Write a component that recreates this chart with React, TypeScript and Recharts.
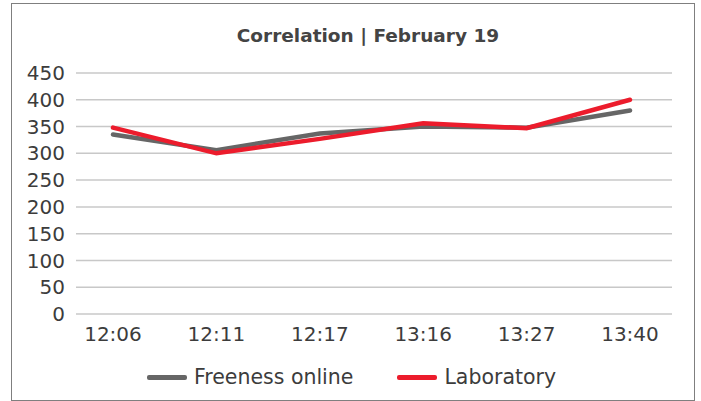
import { CartesianGrid, Legend, Line, LineChart, XAxis, YAxis } from 'recharts';

// values
const times = ['12:06', '12:11', '12:17', '13:16', '13:27', '13:40'];
const freenessOnline = [335, 306, 337, 350, 348, 380];
const laboratory = [348, 300, 327, 356, 347, 400];
const yTicks = [0, 50, 100, 150, 200, 250, 300, 350, 400, 450];

const data = times.map((t, i) => ({
    time: t,
    freeness: freenessOnline[i],
    lab: laboratory[i],
}));

const FONT = '"DejaVu Sans", sans-serif';
const TEXT = '#3c3c3c';
const GRAY = '#666666';
const RED = '#ec1c2c';

const LegendContent = ({ payload }: any) => (
    <div style={{ display: 'flex', justifyContent: 'center', alignItems: 'center', fontFamily: FONT, fontSize: 20.5, color: TEXT, paddingLeft: 2 }}>
        {(payload || []).map((p: any, i: number) => (
            <div key={p.value} style={{ display: 'flex', alignItems: 'center', marginLeft: i === 0 ? 0 : 44 }}>
                <span style={{ display: 'inline-block', width: 40, height: 5, borderRadius: 2, background: p.color, marginRight: 7 }} />
                <span>{p.value}</span>
            </div>
        ))}
    </div>
);

export default function App() {
    return (
        <div style={{ position: 'absolute', left: 0, top: 0, width: 701, height: 401, background: '#fff' }}>
            <div
                style={{
                    position: 'absolute',
                    left: 11,
                    top: 3,
                    width: 684,
                    height: 398,
                    boxSizing: 'border-box',
                    border: '1.5px solid #7f7f7f',
                }}
            />
            <div
                style={{
                    position: 'absolute',
                    left: 168,
                    width: 400,
                    top: 25,
                    textAlign: 'center',
                    fontFamily: FONT,
                    fontWeight: 'bold',
                    fontSize: 18.5,
                    color: '#444',
                }}
            >
                Correlation | February 19
            </div>
            <div style={{ position: 'absolute', left: 0, top: 0 }}>
                <LineChart width={701} height={401} data={data} margin={{ top: 73, right: 29, left: 16, bottom: 23 }}>
                    <CartesianGrid vertical={false} stroke="#c8c8c8" strokeWidth={1.5} />
                    <XAxis
                        dataKey="time"
                        axisLine={false}
                        tickLine={false}
                        tickSize={0}
                        tickMargin={13}
                        height={40}
                        padding={{ left: 37, right: 42 }}
                        tick={{ fill: TEXT, fontSize: 20, fontFamily: FONT }}
                    />
                    <YAxis
                        domain={[0, 450]}
                        ticks={yTicks}
                        interval={0}
                        axisLine={false}
                        tickLine={false}
                        tickSize={0}
                        tickMargin={11}
                        width={60}
                        tick={{ fill: TEXT, fontSize: 20, fontFamily: FONT }}
                    />
                    <Legend
                        verticalAlign="bottom"
                        height={24}
                        content={<LegendContent />}
                        wrapperStyle={{ top: 365, bottom: 'auto', left: 0, width: 701 }}
                    />
                    <Line
                        name="Freeness online"
                        dataKey="freeness"
                        stroke={GRAY}
                        strokeWidth={4.5}
                        dot={false}
                        strokeLinecap="round"
                        isAnimationActive={false}
                    />
                    <Line
                        name="Laboratory"
                        dataKey="lab"
                        stroke={RED}
                        strokeWidth={4.5}
                        dot={false}
                        strokeLinecap="round"
                        isAnimationActive={false}
                    />
                </LineChart>
            </div>
        </div>
    );
}
